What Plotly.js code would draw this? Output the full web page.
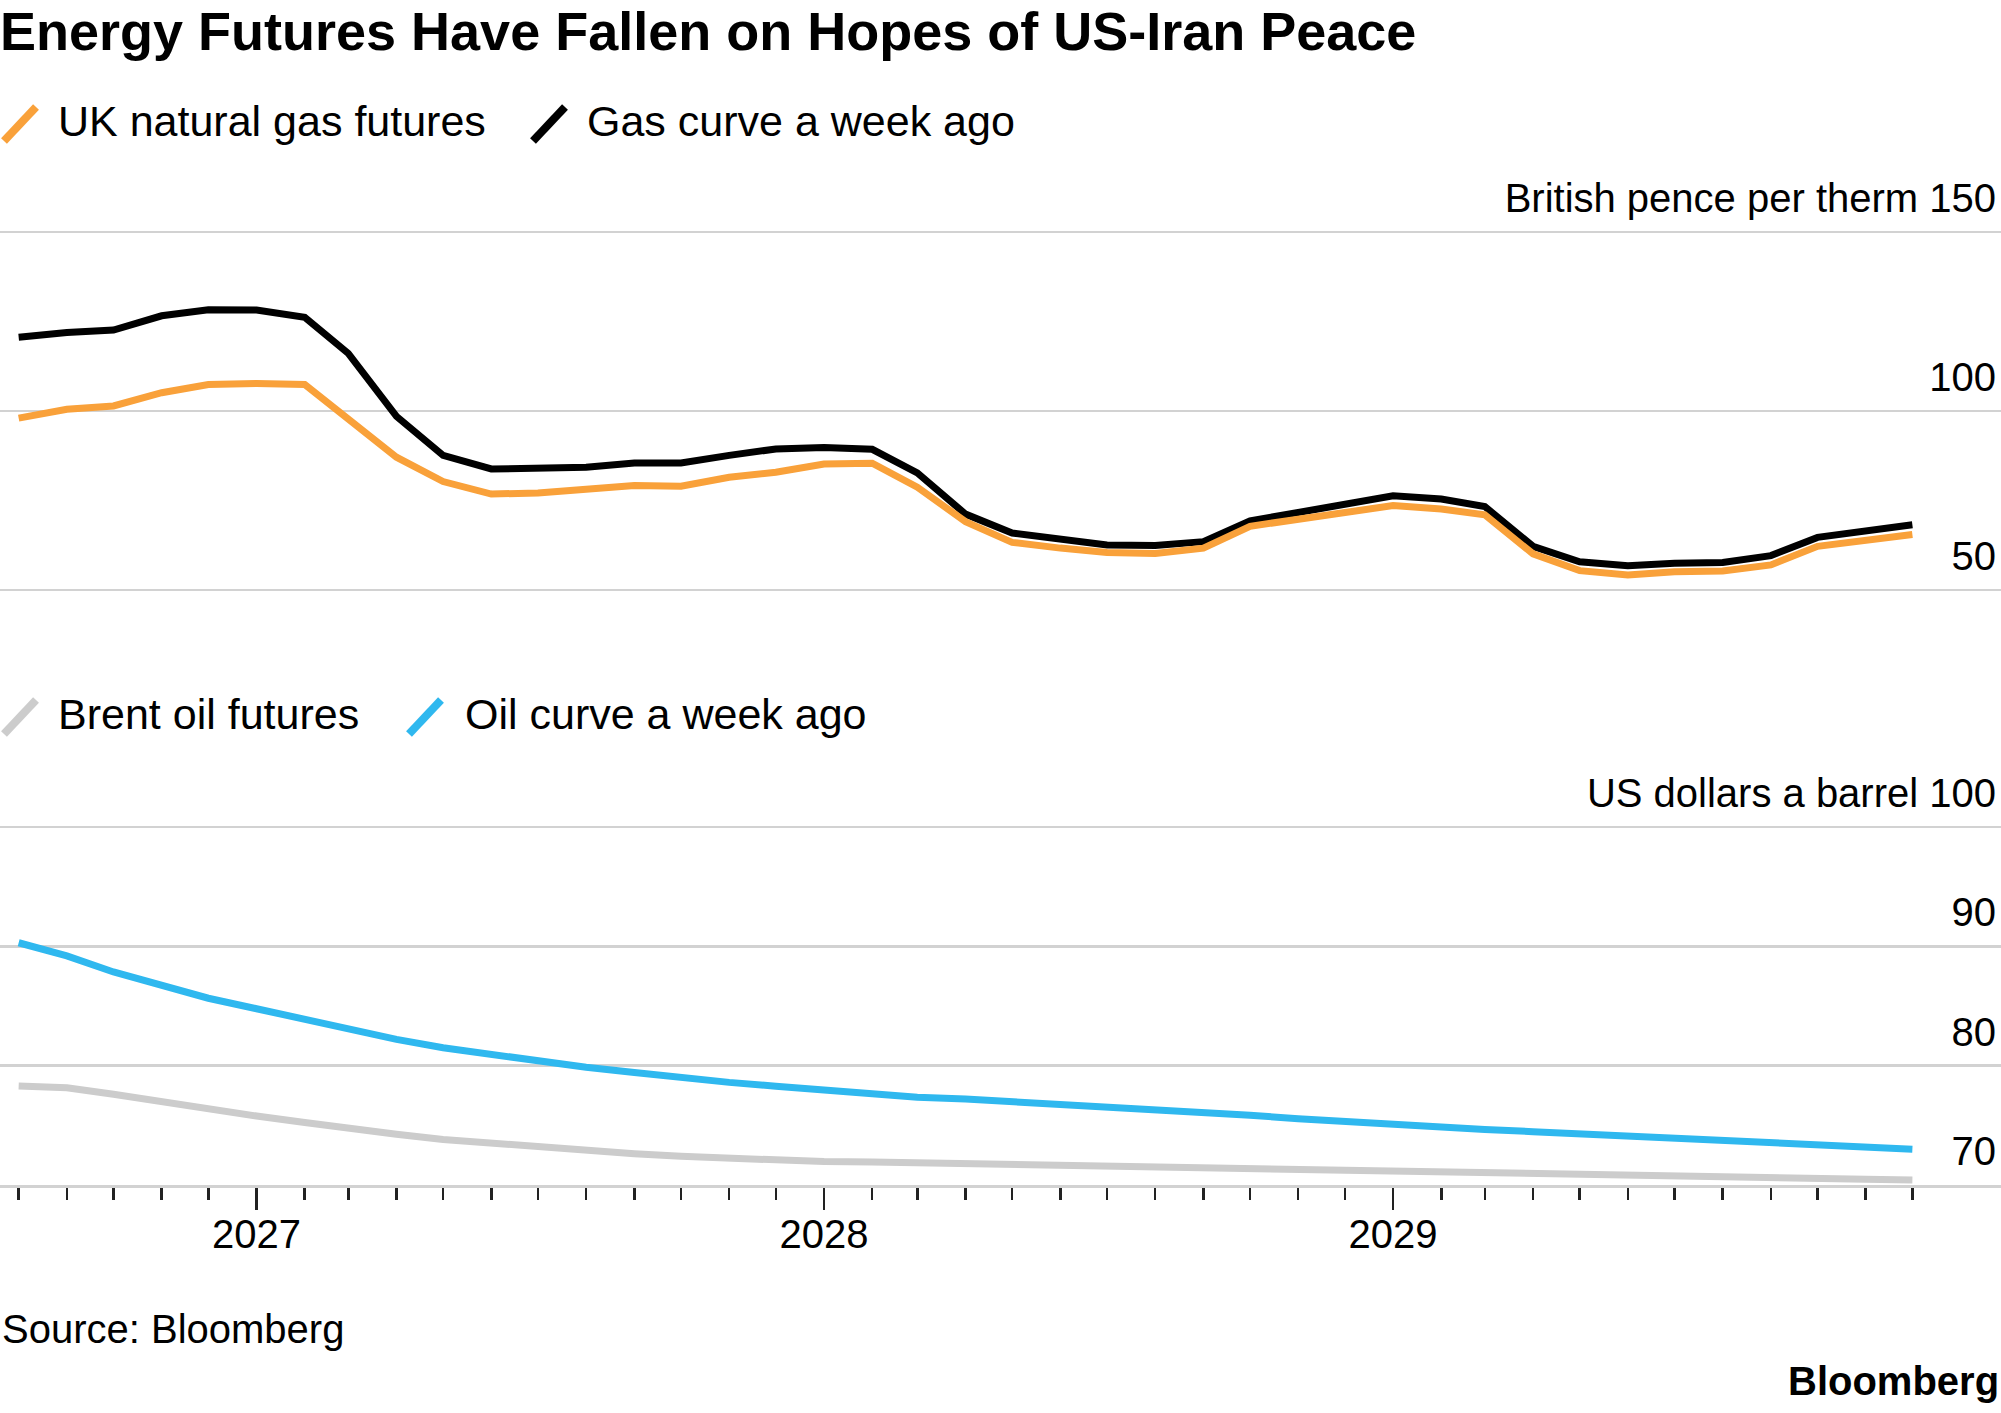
<!DOCTYPE html>
<html>
<head>
<meta charset="utf-8">
<script src="https://cdn.plot.ly/plotly-3.0.1.min.js"></script>
<style>
  html, body { margin: 0; padding: 0; background: #ffffff; }
  #chart { width: 2001px; height: 1413px; }
</style>
</head>
<body>
<div id="chart"></div>
<script>
// ---- Data (monthly contracts) ----
const months = [
  '2026-08','2026-09','2026-10','2026-11','2026-12',
  '2027-01','2027-02','2027-03','2027-04','2027-05','2027-06','2027-07','2027-08','2027-09','2027-10','2027-11','2027-12',
  '2028-01','2028-02','2028-03','2028-04','2028-05','2028-06','2028-07','2028-08','2028-09','2028-10','2028-11','2028-12',
  '2029-01','2029-02','2029-03','2029-04','2029-05','2029-06','2029-07','2029-08','2029-09','2029-10','2029-11','2029-12'
];

// UK natural gas futures (British pence per therm)
const ukGas = [
  98.0, 100.5, 101.4, 105.1, 107.4,
  107.7, 107.4, 97.7, 87.1, 80.3, 76.8, 77.1, 78.2, 79.2, 79.0, 81.5, 82.9,
  85.2, 85.4, 78.7, 69.1, 63.3, 61.7, 60.5, 60.2, 61.7, 67.8, 69.8, 71.5,
  73.6, 72.6, 71.0, 60.1, 55.4, 54.2, 55.1, 55.3, 57.0, 62.2, 63.8, 65.5
];

// Gas curve a week ago
const gasWeekAgo = [
  120.6, 121.9, 122.6, 126.6, 128.3,
  128.2, 126.2, 116.1, 98.5, 87.6, 83.8, 84.0, 84.3, 85.5, 85.5, 87.6, 89.4,
  89.8, 89.3, 82.7, 71.2, 65.9, 64.2, 62.6, 62.4, 63.5, 69.3, 71.7, 73.7,
  76.3, 75.4, 73.3, 62.2, 57.9, 56.8, 57.5, 57.7, 59.6, 64.7, 66.3, 68.2
];

// Brent oil futures (US dollars a barrel)
const brent = [
  78.3, 78.15, 77.6, 76.95, 76.31,
  75.78, 75.23, 74.73, 74.26, 73.81, 73.5, 73.17, 72.84, 72.62, 72.4, 72.22, 72.08,
  71.96, 71.92, 71.86, 71.8, 71.76, 71.68, 71.6, 71.5, 71.42, 71.35, 71.28, 71.2,
  71.12, 71.1, 71.07, 71.04, 71.0, 70.92, 70.85, 70.76, 70.66, 70.56, 70.49, 70.42
];

// Oil curve a week ago
const oilWeekAgo = [
  90.3, 89.2, 87.85, 86.7, 85.65,
  84.77, 83.9, 83.0, 82.2, 81.5, 80.9, 80.35, 79.86, 79.43, 79.0, 78.6, 78.28,
  77.95, 77.63, 77.35, 77.2, 77.0, 76.8, 76.6, 76.35, 76.1, 75.85, 75.55, 75.3,
  75.05, 74.85, 74.65, 74.47, 74.28, 74.1, 73.9, 73.73, 73.57, 73.4, 73.2, 73.0
];

// Tick values and labels
const yearTickVals = ['2027-01-01', '2028-01-01', '2029-01-01'];
const yearTickText = ['2027', '2028', '2029'];
const gasTickVals = [50, 100, 150];
const gasTickText = ['50', '100', 'British pence per therm 150'];
const oilTickVals = [70, 80, 90, 100];
const oilTickText = ['70', '80', '90', 'US dollars a barrel 100'];

// Names
const seriesNames = ['UK natural gas futures', 'Gas curve a week ago', 'Brent oil futures', 'Oil curve a week ago'];

// ---- Styling ----
const W = 2001, H = 1413;
const FONT = 'Liberation Sans, Arial, Helvetica, sans-serif';
const C_ORANGE = '#f9a13a';
const C_BLACK = '#000000';
const C_GREY = '#cccccc';
const C_BLUE = '#2fb8ef';
const GRID = '#d2d2d2';

const px = v => v / W;           // x pixel -> paper
const py = v => 1 - v / H;       // y pixel -> paper

const traces = [
  { x: months, y: gasWeekAgo, xaxis: 'x', yaxis: 'y', type: 'scatter', mode: 'lines',
    name: seriesNames[1], line: { color: C_BLACK, width: 7 }, showlegend: false, hoverinfo: 'skip' },
  { x: months, y: ukGas, xaxis: 'x', yaxis: 'y', type: 'scatter', mode: 'lines',
    name: seriesNames[0], line: { color: C_ORANGE, width: 7 }, showlegend: false, hoverinfo: 'skip' },
  { x: months, y: brent, xaxis: 'x', yaxis: 'y2', type: 'scatter', mode: 'lines',
    name: seriesNames[2], line: { color: C_GREY, width: 7 }, showlegend: false, hoverinfo: 'skip' },
  { x: months, y: oilWeekAgo, xaxis: 'x', yaxis: 'y2', type: 'scatter', mode: 'lines',
    name: seriesNames[3], line: { color: C_BLUE, width: 7 }, showlegend: false, hoverinfo: 'skip' }
];

function legendText(text, xPix, yPix) {
  return { text: text, xref: 'paper', yref: 'paper', x: px(xPix), y: py(yPix),
    xanchor: 'left', yanchor: 'middle', showarrow: false,
    font: { family: FONT, size: 43, color: '#000' } };
}
function slash(color, xPix, yPix) {
  return { type: 'line', xref: 'paper', yref: 'paper',
    x0: px(xPix), y0: py(yPix + 17), x1: px(xPix + 32), y1: py(yPix - 17),
    line: { color: color, width: 8 } };
}

// gas panel: 50..150 maps to y pixels 590..232 (3.58 px per unit)
// oil panel: 70..100 maps to y pixels 1185..827 (11.93 px per unit)
const layout = {
  width: W, height: H,
  margin: { l: 0, r: 0, t: 0, b: 0, pad: 0 },
  paper_bgcolor: '#ffffff', plot_bgcolor: '#ffffff',
  font: { family: FONT, color: '#000' },
  showlegend: false,
  title: {
    text: 'Energy Futures Have Fallen on Hopes of US-Iran Peace',
    xref: 'container', yref: 'container', x: 0, xanchor: 'left',
    y: py(31), yanchor: 'middle',
    font: { family: FONT, size: 54, color: '#000', weight: 'bold' }
  },
  xaxis: {
    type: 'date', anchor: 'y2', domain: [0, 1],
    range: ['2026-07-20', '2030-01-27'],
    showgrid: false, zeroline: false,
    showline: true, linecolor: GRID, linewidth: 3,
    ticks: 'outside', ticklen: 22, tickwidth: 2.5, tickcolor: '#222',
    tickmode: 'array', tickvals: yearTickVals, ticktext: yearTickText,
    ticklabelstandoff: -10,
    tickfont: { family: FONT, size: 40, color: '#000' },
    minor: { ticks: 'outside', ticklen: 12, tickwidth: 2.5, tickcolor: '#222',
             tickmode: 'array', tickvals: months, showgrid: false },
    fixedrange: true
  },
  yaxis: {
    domain: [py(590 + 1.07), py(232 - 1.07)], range: [49.7, 150.3],
    side: 'right', anchor: 'x',
    tickmode: 'array', tickvals: gasTickVals, ticktext: gasTickText,
    ticklabelposition: 'inside', ticklabeloverflow: 'allow', ticklabelshift: -34, ticklabelstandoff: 2,
    ticks: '', showgrid: true, gridcolor: GRID, gridwidth: 2.5,
    zeroline: false, showline: false,
    tickfont: { family: FONT, size: 40, color: '#000' },
    fixedrange: true
  },
  yaxis2: {
    domain: [py(1185), py(827 - 1.8)], range: [70, 100.15],
    side: 'right', anchor: 'x',
    tickmode: 'array', tickvals: oilTickVals, ticktext: oilTickText,
    ticklabelposition: 'inside', ticklabeloverflow: 'allow', ticklabelshift: -34, ticklabelstandoff: 2,
    ticks: '', showgrid: true, gridcolor: GRID, gridwidth: 2.5,
    zeroline: false, showline: false,
    tickfont: { family: FONT, size: 40, color: '#000' },
    fixedrange: true
  },
  shapes: [
    slash(C_ORANGE, 4, 124),
    slash(C_BLACK, 533, 124),
    slash(C_GREY, 4, 717),
    slash(C_BLUE, 409, 717)
  ],
  annotations: [
    legendText(seriesNames[0], 56, 121),
    legendText(seriesNames[1], 585, 121),
    legendText(seriesNames[2], 56, 714),
    legendText(seriesNames[3], 463, 714),
    { text: 'Source: Bloomberg', xref: 'paper', yref: 'paper', x: 0, y: py(1329),
      xanchor: 'left', yanchor: 'middle', showarrow: false,
      font: { family: FONT, size: 40, color: '#000' } },
    { text: '<b>Bloomberg</b>', xref: 'paper', yref: 'paper', x: 1, y: py(1381),
      xanchor: 'right', yanchor: 'middle', showarrow: false,
      font: { family: FONT, size: 40, color: '#000' } }
  ]
};

Plotly.newPlot('chart', traces, layout, { staticPlot: true, displayModeBar: false, responsive: false });
</script>
</body>
</html>
